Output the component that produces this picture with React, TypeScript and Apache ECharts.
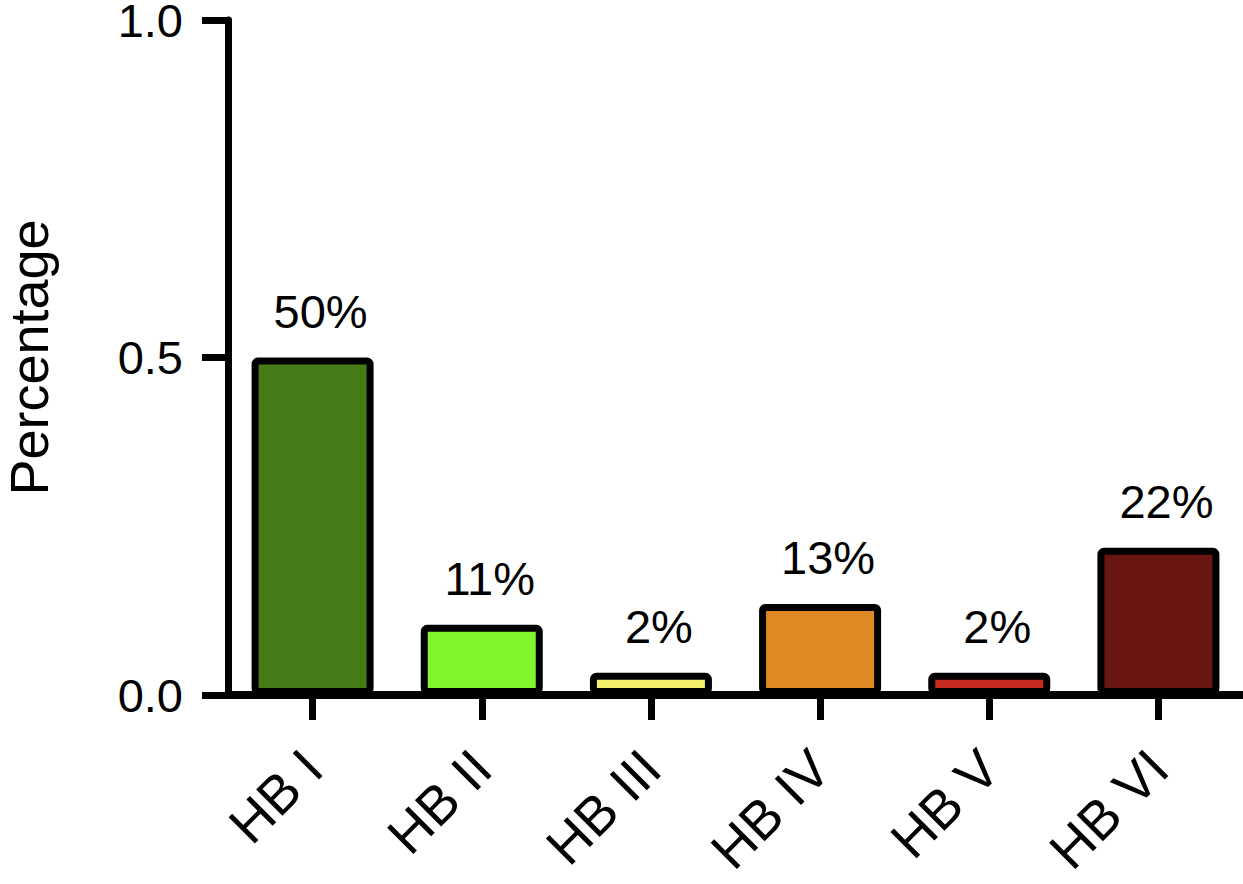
import React, { useEffect, useRef } from "react";
import * as echarts from "echarts";

const categories = ["HB I", "HB II", "HB III", "HB IV", "HB V", "HB VI"];
const values = [0.5, 0.104, 0.033, 0.135, 0.033, 0.218];
const valueLabels = ["50%", "11%", "2%", "13%", "2%", "22%"];
const barColors = ["#457C17", "#80F52B", "#F4F06C", "#DE8924", "#C62A20", "#691512"];
const yMin = 0;
const yMax = 1;
const yInterval = 0.5;
const yTitle = "Percentage";

const FONT = "'Liberation Sans', Arial, Helvetica, sans-serif";

export default function App() {
  const ref = useRef<HTMLDivElement>(null);
  useEffect(() => {
    if (!ref.current) return;
    const chart = echarts.init(ref.current, null, { renderer: "svg" });
    chart.setOption({
      animation: false,
      backgroundColor: "#ffffff",
      grid: {
        left: 228,
        right: 0,
        top: 20,
        bottom: 189,
        outerBoundsMode: "none",
        containLabel: false,
      },
      xAxis: {
        type: "category",
        data: categories,
        axisLine: { show: true, lineStyle: { color: "#000", width: 8 } },
        axisTick: {
          show: true,
          alignWithLabel: true,
          length: 25,
          lineStyle: { color: "#000", width: 7 },
        },
        axisLabel: {
          rotate: 45,
          margin: 64,
          color: "#000",
          fontSize: 54,
          fontFamily: FONT,
          interval: 0,
        },
        splitLine: { show: false },
      },
      yAxis: {
        type: "value",
        min: yMin,
        max: yMax,
        interval: yInterval,
        name: yTitle,
        nameLocation: "middle",
        nameGap: 172,
        nameTextStyle: { color: "#000", fontSize: 54, fontFamily: FONT, lineHeight: 54 },
        axisLine: { show: true, lineStyle: { color: "#000", width: 7 } },
        axisTick: { show: true, length: 26, lineStyle: { color: "#000", width: 7 } },
        axisLabel: {
          margin: 45,
          color: "#000",
          fontSize: 47,
          lineHeight: 36,
          fontFamily: FONT,
          formatter: (v: number) => v.toFixed(1),
        },
        splitLine: { show: false },
      },
      series: [
        {
          type: "bar",
          barWidth: 122,
          data: values.map((v, i) => ({ value: v, itemStyle: { color: barColors[i] } })),
          itemStyle: { borderColor: "#000", borderWidth: 7, borderRadius: 3 },
          label: {
            show: true,
            position: "top",
            distance: 23,
            offset: [8, 0],
            color: "#000",
            fontSize: 47,
            fontFamily: FONT,
            formatter: (p: any) => valueLabels[p.dataIndex],
          },
        },
      ],
    });
    return () => chart.dispose();
  }, []);
  return (
    <div
      ref={ref}
      style={{ position: "absolute", left: 0, top: 0, width: 1243, height: 884 }}
    />
  );
}
